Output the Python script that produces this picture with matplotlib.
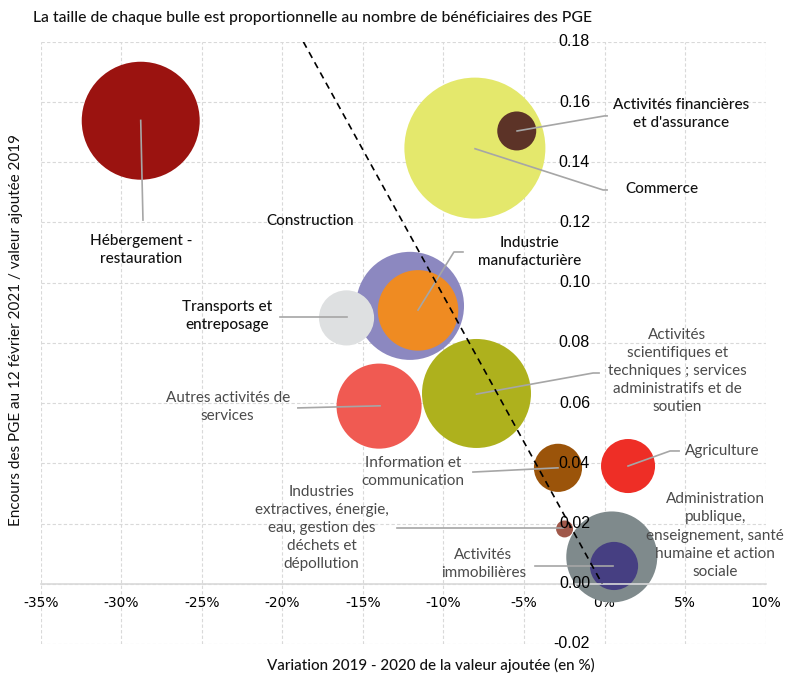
import numpy as np
from matplotlib import pyplot as plt

#%% Data
secteurs = ['Hébergement -\nrestauration', 'Commerce', "Activités financières\net d'assurance",
            'Construction', 'Industrie\nmanufacturière', 'Transports et\nentreposage',
            'Autres activités de\nservices',
            'Activités\nscientifiques et\ntechniques ; services\nadministratifs et de\nsoutien',
            'Information et\ncommunication', 'Agriculture',
            'Industries\nextractives, énergie,\neau, gestion des\ndéchets et\ndépollution',
            'Administration\npublique,\nenseignement, santé\nhumaine et action\nsociale',
            'Activités\nimmobilières']
variation_va = [-28.8, -8.05, -5.45, -12.08, -11.58, -16.02, -14.0, -7.95, -2.89, 1.46, -2.48, 0.45, 0.59]
encours_pge = [0.1538, 0.1447, 0.1504, 0.0923, 0.0908, 0.0883, 0.059, 0.0632, 0.0385, 0.0391, 0.0182, 0.0089, 0.0059]
beneficiaires = [34.8, 49.7, 3.8, 29.2, 16.2, 7.6, 18.1, 29.7, 5.8, 7.3, 0.72, 20.7, 5.8]
couleurs = ['#9B1310', '#E4E86C', '#5C3327', '#8C88C0', '#EF8B22', '#DEE0E1', '#F05A52',
            '#AEB11D', '#9B540A', '#EE2E26', '#A0584A', '#7F8A8C', '#463F82']

# label position, alignment, colour
lab_x = [-28.8, 3.54, 4.78, -18.29, -4.63, -23.45, -23.4, 4.53, -11.89, 5.0, -17.58, 6.87, -7.52]
lab_y = [0.1109, 0.1311, 0.1559, 0.1205, 0.1102, 0.0888, 0.0586, 0.0707, 0.0371, 0.0441, 0.0185, 0.016, 0.0066]
lab_ha = ['center'] * 9 + ['left'] + ['center'] * 3
lab_col = ['#111111'] * 6 + ['#4a4a4a'] * 7
lab_w = ['medium'] * 6 + ['normal'] * 7

# leader lines (bubble -> label)
leaders = [
    ([-28.8, -28.66], [0.1539, 0.1208]),
    ([-8.04, -0.09, 0.16], [0.1445, 0.1308, 0.1308]),
    ([-5.43, 0.0, 0.16], [0.1504, 0.1554, 0.1554]),
    ([-11.58, -9.35, -8.79], [0.0909, 0.1102, 0.1102]),
    ([-16.0, -20.16], [0.0886, 0.0886]),
    ([-13.94, -19.04], [0.0591, 0.0584]),
    ([-7.95, -0.71, -0.34], [0.063, 0.0700, 0.0700]),
    ([-2.89, -8.17], [0.0385, 0.0371]),
    ([1.46, 4.07, 4.63], [0.0391, 0.0441, 0.0441]),
    ([-2.58, -12.89], [0.0185, 0.0185]),
    ([0.53, -4.32], [0.0059, 0.0059]),
]

trend_x = [-18.7, -0.15]
trend_y = [0.18, 0.0]

x_ticks = [-35, -30, -25, -20, -15, -10, -5, 0, 5, 10]
y_ticks = [-0.02, 0.0, 0.02, 0.04, 0.06, 0.08, 0.10, 0.12, 0.14, 0.16, 0.18]

#%% Plot
FONT = 'Lato'
fig = plt.figure(figsize=(7.86, 6.75), dpi=100)
ax = fig.add_axes([0.052, 0.046, 0.922, 0.892])

ax.set_xlim(-35, 10)
ax.set_ylim(-0.02, 0.18)

size_k = 100 * 1.44 ** 2
ax.scatter(variation_va, encours_pge, s=np.array(beneficiaires) * size_k, c=couleurs,
           linewidths=0, zorder=2)

for lx, ly in leaders:
    ax.plot(lx, ly, color='#a6a6a6', lw=1.2, zorder=3)

ax.plot(trend_x, trend_y, color='black', lw=1.2, ls=(0, (4, 3)), zorder=4)

for i, s in enumerate(secteurs):
    ax.text(lab_x[i], lab_y[i], s, ha=lab_ha[i], va='center', multialignment='center',
            fontsize=11, color=lab_col[i], family=FONT, weight=lab_w[i],
            linespacing=1.38, zorder=6)

# grid
ax.set_xticks(x_ticks)
ax.set_xticklabels([f'{t}%' for t in x_ticks], family=FONT, fontsize=11.5)
ax.set_yticks(y_ticks)
ax.grid(True, color='#d9d9d9', ls=(0, (3, 2)), lw=0.8)
ax.set_axisbelow(True)
ax.tick_params(axis='y', labelleft=False, length=0)
ax.tick_params(axis='x', length=0, pad=9)
for sp in ['top', 'right', 'left']:
    ax.spines[sp].set_visible(False)
ax.spines['bottom'].set_position(('data', 0))
ax.spines['bottom'].set_color('#d9d9d9')
ax.spines['bottom'].set_linewidth(1.2)

for v in y_ticks:
    ax.text(-0.9, v, f'{v:.2f}', ha='right', va='center', fontsize=11.5,
            family='Liberation Sans', color='black', zorder=7)

fig.text(33 / 786, 1 - 18 / 675,
         'La taille de chaque bulle est proportionnelle au nombre de bénéficiaires des PGE',
         ha='left', va='center', fontsize=11.3, family=FONT, weight='medium', color='#111111')
fig.text(16 / 786, 0.511, 'Encours des PGE au 12 février 2021 / valeur ajoutée 2019',
         rotation=90, ha='center', va='center', fontsize=11, family=FONT, color='#111111')
fig.text(431 / 786, 1 - 665 / 675, 'Variation 2019 - 2020 de la valeur ajoutée (en %)',
         ha='center', va='center', fontsize=10.9, family=FONT, weight='medium', color='#111111')

fig.savefig('out.png', dpi=100)
